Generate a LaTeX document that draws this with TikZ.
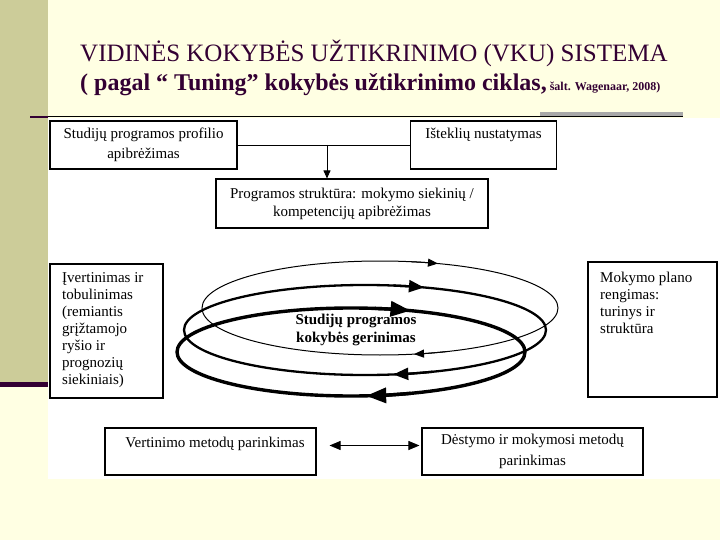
\documentclass[tikz,border=0pt]{standalone}
\usepackage{fontspec}
\setmainfont{Liberation Serif}
\usetikzlibrary{arrows.meta,calc}
\definecolor{bgY}{HTML}{FFFFE3}
\definecolor{oliveband}{HTML}{CCCC99}
\definecolor{plum}{HTML}{330033}
\definecolor{barG}{HTML}{A8A8A8}
\begin{document}
\begin{tikzpicture}[x=1pt,y=-1pt,
  box/.style={draw=black, line width=1.1pt, inner sep=0pt},
  txt/.style={font=\fontsize{15}{17}\selectfont, inner sep=0pt},
  conn/.style={draw=black, line width=0.9pt},
  tipS/.style={-{Triangle[length=8pt,width=7pt]}},
  tipB/.style={{Triangle[length=11pt,width=9pt]}-{Triangle[length=11pt,width=9pt]}},
  ringA/.style={line width=1pt},
  ringB/.style={line width=2.3pt},
  ringC/.style={line width=3.4pt}]
\useasboundingbox (0,0) rectangle (720,540);
% background
\fill[bgY] (0,0) rectangle (720,540);
\fill[oliveband] (0,0) rectangle (48,382);
\fill[plum] (0,382) rectangle (48,386.5);
\fill[white] (48,118) rectangle (720,479);
\fill[barG] (540,112) rectangle (683,116.5);
\draw[plum, line width=2.5pt] (30,117) -- (48,117);
\draw[black, line width=1pt] (48,117) -- (683,117);
% title
\node[anchor=base west, inner sep=0pt, text=plum, font=\fontsize{25}{28}\selectfont] (t1) at (80,62)
  {VIDINĖS KOKYBĖS UŽTIKRINIMO (VKU) SISTEMA};
\node[anchor=base west, inner sep=0pt, text=plum, font=\bfseries\fontsize{24}{28}\selectfont] (t2) at (80,91)
  {( pagal “ Tuning” kokybės užtikrinimo ciklas,\fontsize{12}{14}\selectfont\ šalt. Wagenaar, 2008)};
% boxes
\node[box, txt, minimum width=187pt, minimum height=48pt, align=center, font=\fontsize{15}{20}\selectfont] (b1) at (143.5,145)
  {Studijų programos profilio\\apibrėžimas};
\node[box, minimum width=146pt, minimum height=48pt] (b2) at (483.5,145) {};
\node[txt, anchor=base] (b2t) at (483.5,139) {Išteklių nustatymas};
\node[box, txt, minimum width=272pt, minimum height=49pt, align=center, font=\fontsize{15}{18}\selectfont] (b3) at (352,203.5)
  {Programos struktūra: mokymo siekinių /\\kompetencijų apibrėžimas};
\node[box, minimum width=113pt, minimum height=134pt] (b5) at (106.5,331) {};
\node[txt, anchor=north west, align=left] (b5t) at (62,272.5)
  {Įvertinimas ir\\tobulinimas\\(remiantis\\grįžtamojo\\ryšio ir\\prognozių\\siekiniais)};
\node[box, minimum width=129pt, minimum height=135pt] (b6) at (652.5,329.5) {};
\node[txt, anchor=north west, align=left] (b6t) at (600,271.5)
  {Mokymo plano\\rengimas:\\turinys ir\\struktūra};
\node[box, minimum width=211pt, minimum height=47pt] (b7) at (210.5,451.5) {};
\node[txt, anchor=base] (b7t) at (215,447) {Vertinimo metodų parinkimas};
\node[box, txt, minimum width=221pt, minimum height=47pt, align=center, font=\fontsize{15}{21}\selectfont] (b8) at (532.5,451.5)
  {Dėstymo ir mokymosi metodų\\parinkimas};
% connectors
\draw[conn] (b1.east) -- (b2.west);
\coordinate (j) at (327,145);
\draw[conn, tipS] (j) -- (j |- b3.north);
\draw[conn, tipB, shorten <=13pt, shorten >=2pt] ([yshift=6pt]b7.east) -- ([yshift=6pt]b8.west);
% cycle ellipses
\draw[ringA] (380,308) ellipse [x radius=178, y radius=47];
\draw[ringA, -{Triangle[length=10pt,width=8pt]}] (380,308) ++(280:178 and 47) arc[start angle=280, end angle=289, x radius=178, y radius=47];
\draw[ringA, -{Triangle[length=10pt,width=8pt]}] (380,308) ++(68:178 and 47) arc[start angle=68, end angle=79, x radius=178, y radius=47];
\draw[ringB] (365,330) ellipse [x radius=181, y radius=45];
\draw[ringB, -{Triangle[length=15pt,width=12pt]}] (365,330) ++(279:181 and 45) arc[start angle=279, end angle=289, x radius=181, y radius=45];
\draw[ringB, -{Triangle[length=15pt,width=12pt]}] (365,330) ++(68:181 and 45) arc[start angle=68, end angle=81, x radius=181, y radius=45];
\draw[ringC] (351,352) ellipse [x radius=174, y radius=44];
\draw[ringC, -{Triangle[length=20pt,width=15pt]}] (351,352) ++(278:174 and 44) arc[start angle=278, end angle=290, x radius=174, y radius=44];
\draw[ringC, -{Triangle[length=20pt,width=15pt]}] (351,352) ++(70:174 and 44) arc[start angle=70, end angle=85, x radius=174, y radius=44];
\node[inner sep=0pt, align=center, font=\bfseries\fontsize{15}{18}\selectfont] (cyc) at (356,330)
  {Studijų programos\\kokybės gerinimas};
\end{tikzpicture}
\end{document}
